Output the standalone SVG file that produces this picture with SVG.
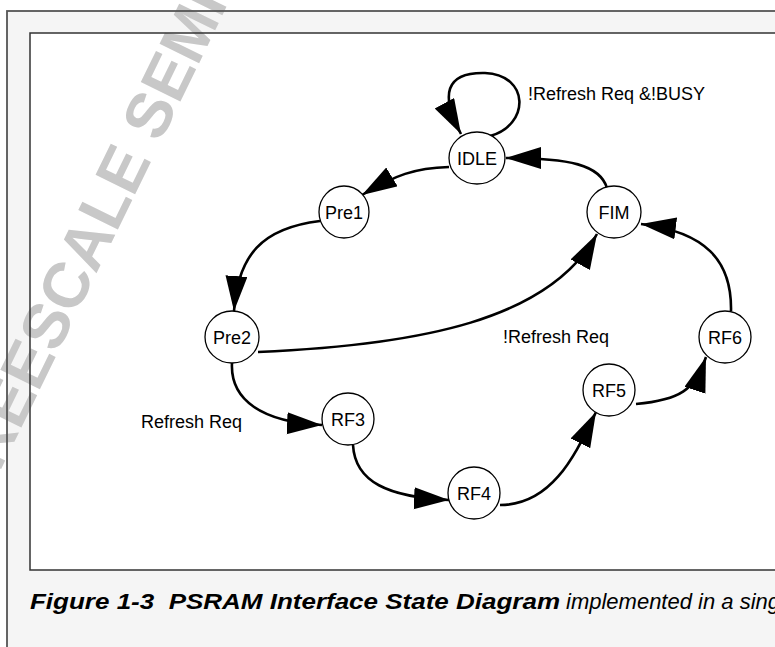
<svg xmlns="http://www.w3.org/2000/svg" width="775" height="647" viewBox="0 0 775 647">
<defs>
<marker id="ah" markerUnits="userSpaceOnUse" markerWidth="38" markerHeight="24" refX="35" refY="11" orient="auto">
<path d="M0,0 L35,11 L0,22 z" fill="#000"/>
</marker>
</defs>
<style>
.fill-outer{fill:#f5f5f5}
.fill-inner{fill:#fff}
.line-outer{fill:none;stroke:#555;stroke-width:1.8}
.line-inner{fill:none;stroke:#333;stroke-width:1.5}
.wm{font-family:"Liberation Sans",Arial,sans-serif;font-weight:bold;font-size:64px;fill:#c8c8c8}
.node ellipse{fill:#fff;stroke:#000;stroke-width:1.3}
.node text{font-family:"Liberation Sans",Arial,sans-serif;font-size:18px;fill:#000;text-anchor:middle}
.edge{fill:none;stroke:#000;stroke-width:2.6;marker-end:url(#ah)}
.lbl{font-family:"Liberation Sans",Arial,sans-serif;font-size:18px;fill:#000}
.cap{font-family:"Liberation Sans",Arial,sans-serif;font-size:22px;font-style:italic;fill:#000}
</style>
<rect class="fill-outer" x="7" y="11" width="800" height="700"/>
<rect class="fill-inner" x="30" y="33" width="800" height="537"/>
<text class="wm" transform="translate(-18,508) rotate(-64)">FREESCALE SEMI</text>
<rect class="line-outer" x="7" y="11" width="800" height="700"/>
<rect class="line-inner" x="30" y="33" width="800" height="537"/>

<g id="connectors">
<path class="edge" d="M490,136 C530,125 530,75 485,73 C445,72 440,95 461,134"/>
<path class="edge" d="M449,167 C415,168 395,175 362,195"/>
<path class="edge" d="M320,221 C262,228 238,255 234,311"/>
<path class="edge" d="M258,352 C420,345 550,320 597,234"/>
<path class="edge" d="M232,363 C230,400 262,422 322,425"/>
<path class="edge" d="M353,445 C355,482 388,497 449,500"/>
<path class="edge" d="M500,505 C555,505 578,448 596,412"/>
<path class="edge" d="M636,404 C680,400 695,390 706,357"/>
<path class="edge" d="M731,311 C732,260 705,232 641,224"/>
<path class="edge" d="M607,188 C600,165 570,158 506,158"/>
</g>

<text class="lbl" x="528" y="100">!Refresh Req &amp;!BUSY</text>
<text class="lbl" x="503" y="343">!Refresh Req</text>
<text class="lbl" x="141" y="428">Refresh Req</text>

<g id="IDLE" class="node"><ellipse cx="477" cy="158" rx="28" ry="26"/><text x="477" y="164.5">IDLE</text></g>
<g id="Pre1" class="node"><ellipse cx="344" cy="212" rx="25" ry="26"/><text x="344" y="218.5">Pre1</text></g>
<g id="FIM" class="node"><ellipse cx="614" cy="212" rx="27" ry="26"/><text x="614" y="218.5">FIM</text></g>
<g id="Pre2" class="node"><ellipse cx="232" cy="337" rx="27" ry="26"/><text x="232" y="343.5">Pre2</text></g>
<g id="RF6" class="node"><ellipse cx="725" cy="337" rx="26" ry="26"/><text x="725" y="343.5">RF6</text></g>
<g id="RF3" class="node"><ellipse cx="348" cy="419" rx="26" ry="26"/><text x="348" y="425.5">RF3</text></g>
<g id="RF5" class="node"><ellipse cx="609" cy="390" rx="26" ry="26"/><text x="609" y="396.5">RF5</text></g>
<g id="RF4" class="node"><ellipse cx="474" cy="493" rx="26" ry="26"/><text x="474" y="499.5">RF4</text></g>

<text class="cap" y="609"><tspan x="30" font-weight="bold" textLength="530" lengthAdjust="spacingAndGlyphs">Figure 1-3&#160; PSRAM Interface State Diagram</tspan><tspan x="566">implemented in a sing</tspan></text>
</svg>
